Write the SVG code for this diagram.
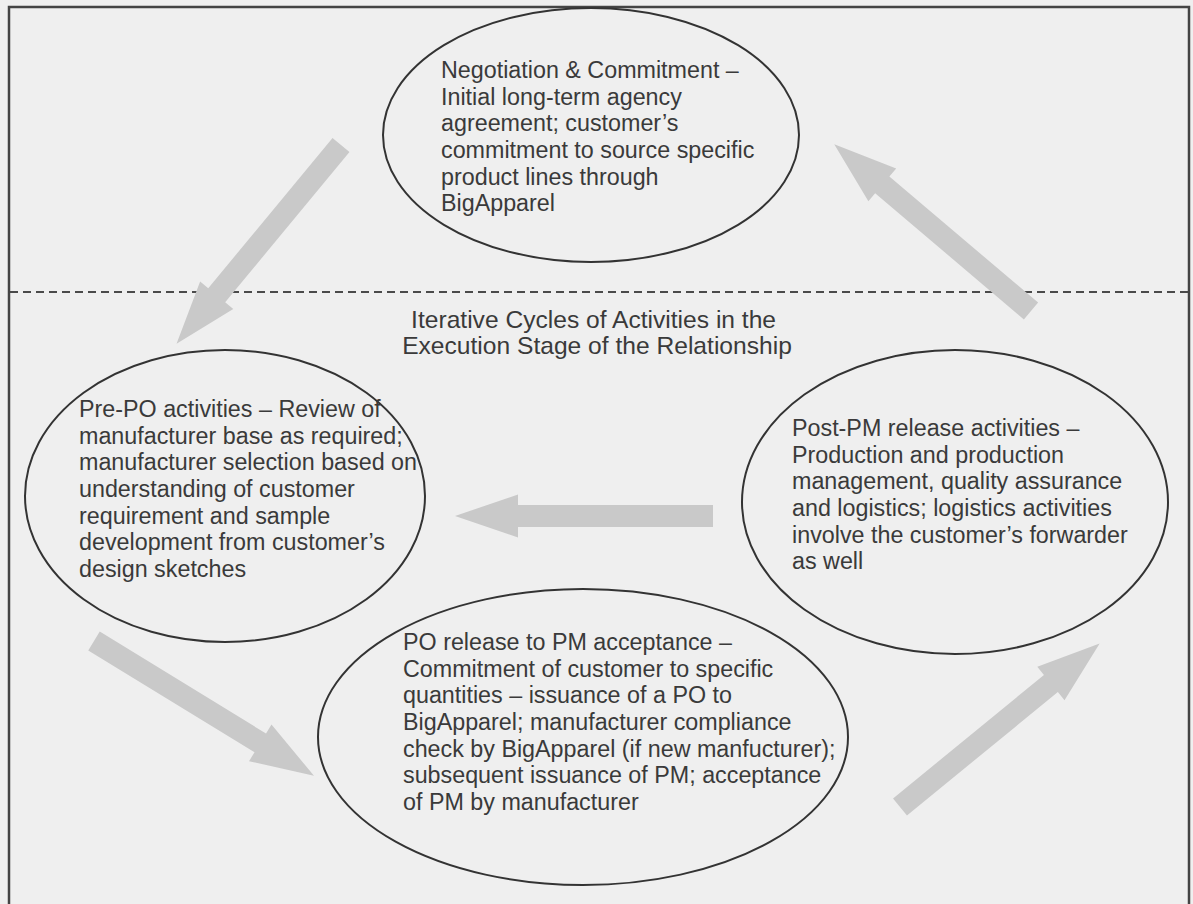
<svg xmlns="http://www.w3.org/2000/svg" xmlns:xlink="http://www.w3.org/1999/xlink" width="1193" height="904" viewBox="0 0 1193 904">
  <style>
    .stage { fill: none; stroke: #333333; stroke-width: 2; }
    .label { font-family: "Liberation Sans", Arial, sans-serif; font-size: 23.3px; fill: #3a3a3a; }
    .heading { font-family: "Liberation Sans", Arial, sans-serif; font-size: 24.6px; fill: #3a3a3a; text-anchor: middle; }
    .flow { fill: #c9c9c9; }
  </style>
  <defs>
    <!-- block arrow pointing along +x, tail at the origin -->
    <path id="block-arrow" d="M0,-11 L195,-11 L195,-21.5 L258,0 L195,21.5 L195,11 L0,11 Z"/>
  </defs>

  <!-- page and frame -->
  <rect x="0" y="0" width="1193" height="904" fill="#efefef"/>
  <path d="M9,906 L9,7 L1189,7 L1189,906" fill="none" stroke="#444444" stroke-width="2.5"/>

  <!-- boundary between commitment stage and execution stage -->
  <line x1="10" y1="292" x2="1188" y2="292" stroke="#4a4a4a" stroke-width="2" stroke-dasharray="8 5"/>

  <text class="heading">
    <tspan x="597" y="328">Iterative Cycles of Activities in the</tspan>
    <tspan x="597" y="354">Execution Stage of the Relationship</tspan>
  </text>

  <!-- cycle arrows -->
  <g id="connectors" class="flow">
    <use xlink:href="#block-arrow" transform="translate(341,145) rotate(129.6)"/>
    <use xlink:href="#block-arrow" transform="translate(94,641) rotate(31.5)"/>
    <use xlink:href="#block-arrow" transform="translate(900,807) rotate(-39.3)"/>
    <use xlink:href="#block-arrow" transform="translate(1031,311) rotate(-139.7)"/>
    <use xlink:href="#block-arrow" transform="translate(713,516) rotate(180)"/>
  </g>

  <g id="negotiation">
    <ellipse class="stage" cx="591" cy="135" rx="208" ry="127"/>
    <text class="label">
      <tspan x="441" y="78">Negotiation &amp; Commitment –</tspan>
      <tspan x="441" y="105">Initial long-term agency</tspan>
      <tspan x="441" y="131">agreement; customer’s</tspan>
      <tspan x="441" y="158">commitment to source specific</tspan>
      <tspan x="441" y="185">product lines through</tspan>
      <tspan x="441" y="211">BigApparel</tspan>
    </text>
  </g>

  <g id="pre-po">
    <ellipse class="stage" cx="225" cy="496" rx="200" ry="146"/>
    <text class="label">
      <tspan x="79" y="417">Pre-PO activities – Review of</tspan>
      <tspan x="79" y="444">manufacturer base as required;</tspan>
      <tspan x="79" y="470">manufacturer selection based on</tspan>
      <tspan x="79" y="497">understanding of customer</tspan>
      <tspan x="79" y="524">requirement and sample</tspan>
      <tspan x="79" y="550">development from customer’s</tspan>
      <tspan x="79" y="577">design sketches</tspan>
    </text>
  </g>

  <g id="post-pm">
    <ellipse class="stage" cx="955" cy="502" rx="213" ry="152"/>
    <text class="label">
      <tspan x="792" y="436">Post-PM release activities –</tspan>
      <tspan x="792" y="463">Production and production</tspan>
      <tspan x="792" y="489">management, quality assurance</tspan>
      <tspan x="792" y="516">and logistics; logistics activities</tspan>
      <tspan x="792" y="543">involve the customer’s forwarder</tspan>
      <tspan x="792" y="569">as well</tspan>
    </text>
  </g>

  <g id="po-release">
    <ellipse class="stage" cx="583" cy="737" rx="265" ry="148"/>
    <text class="label">
      <tspan x="403" y="650">PO release to PM acceptance –</tspan>
      <tspan x="403" y="677">Commitment of customer to specific</tspan>
      <tspan x="403" y="703">quantities – issuance of a PO to</tspan>
      <tspan x="403" y="730">BigApparel; manufacturer compliance</tspan>
      <tspan x="403" y="757">check by BigApparel (if new manfucturer);</tspan>
      <tspan x="403" y="783">subsequent issuance of PM; acceptance</tspan>
      <tspan x="403" y="810">of PM by manufacturer</tspan>
    </text>
  </g>
</svg>
